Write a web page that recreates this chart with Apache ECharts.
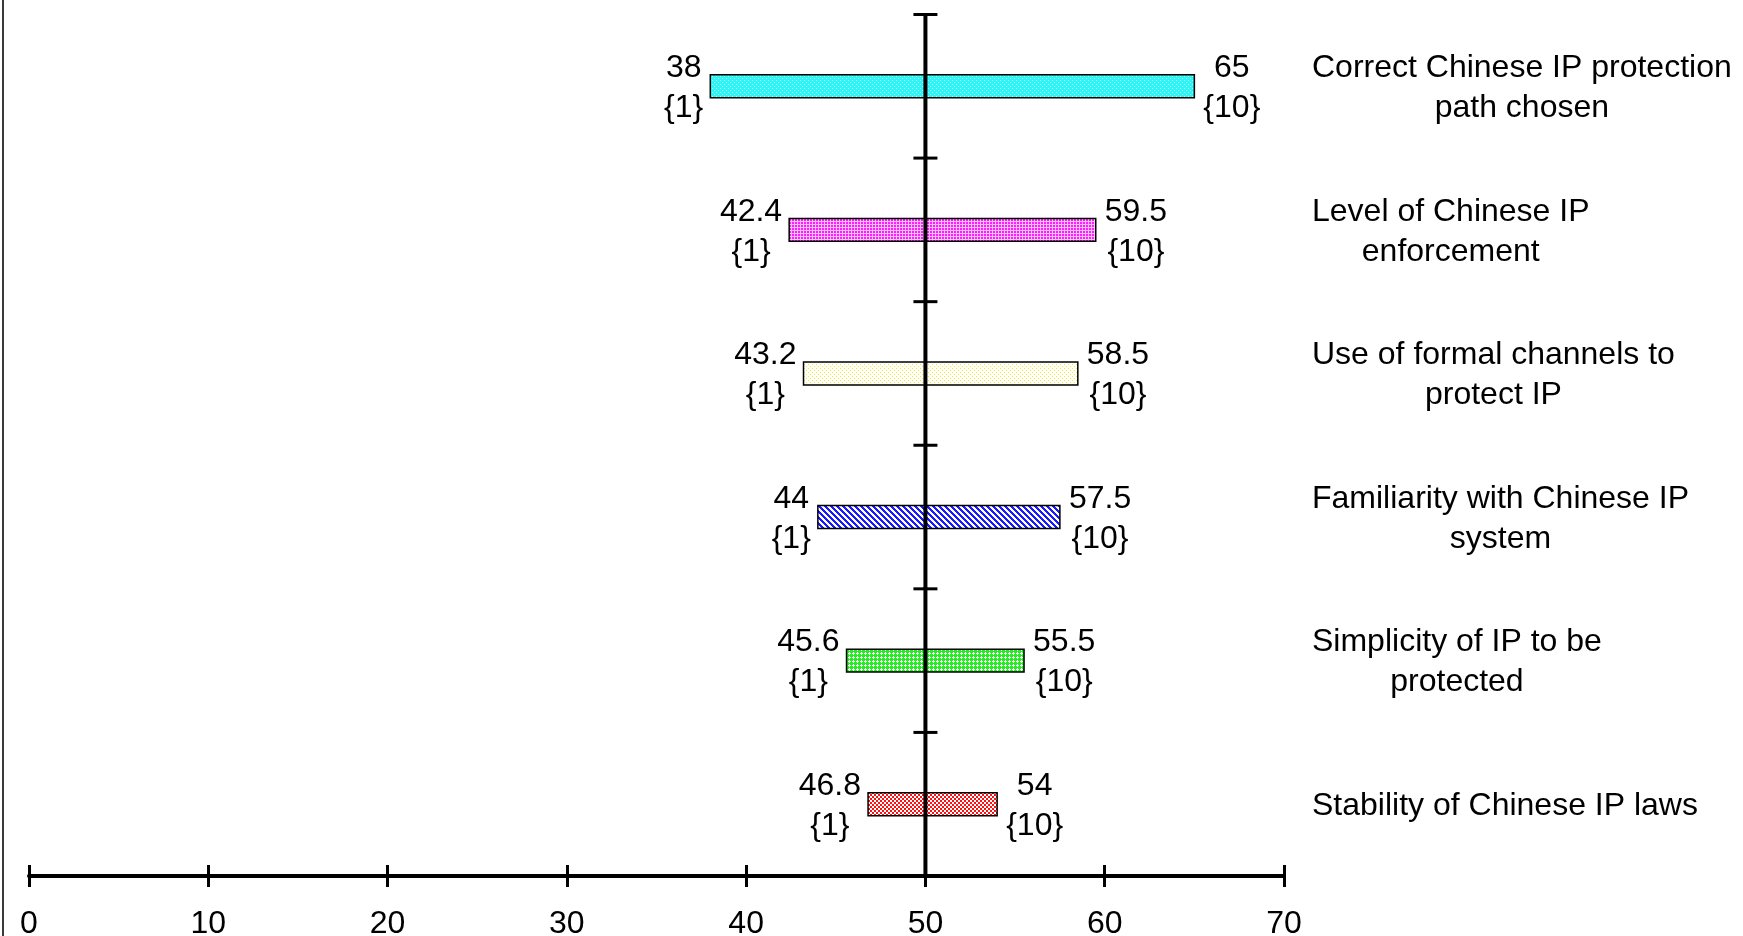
<!DOCTYPE html>
<html><head><meta charset="utf-8">
<script src="https://cdn.jsdelivr.net/npm/echarts@6/dist/echarts.min.js"></script>
<style>
html,body{margin:0;padding:0;background:#fff;overflow:hidden;}
#chart{width:1743px;height:936px;}
#edge{position:absolute;left:2px;top:0;width:2px;height:936px;background:#3a3a3a;}
</style>
</head><body><div id="chart"></div><div id="edge"></div>
<script>
// ---- data ----
const categories = [
  'Correct Chinese IP protection\npath chosen',
  'Level of Chinese IP\nenforcement',
  'Use of formal channels to\nprotect IP',
  'Familiarity with Chinese IP\nsystem',
  'Simplicity of IP to be\nprotected',
  'Stability of Chinese IP laws'
];
const lowValues  = [38, 42.4, 43.2, 44, 45.6, 46.8];
const highValues = [65, 59.5, 58.5, 57.5, 55.5, 54];
const lowRanks   = ['{1}', '{1}', '{1}', '{1}', '{1}', '{1}'];
const highRanks  = ['{10}', '{10}', '{10}', '{10}', '{10}', '{10}'];
const centerValue = 50;
const xMin = 0, xMax = 70, xInterval = 10;

// ---- styles ----
const FONT = "'Liberation Sans', Arial, sans-serif";
const FONT_SIZE = 32;
const measureCtx = document.createElement('canvas').getContext('2d');
measureCtx.font = FONT_SIZE + 'px ' + FONT;
function blockWidth(lines) {
  return Math.max.apply(null, lines.map(s => measureCtx.measureText(String(s)).width));
}
function tile(w, h, bg, fg, pts) {
  const c = document.createElement('canvas');
  c.width = w; c.height = h;
  const g = c.getContext('2d');
  g.fillStyle = bg; g.fillRect(0, 0, w, h);
  g.fillStyle = fg;
  pts.forEach(p => g.fillRect(p[0], p[1], p[2] || 1, p[3] || 1));
  return {image: c, repeat: 'repeat'};
}
function stripes() {
  const c = document.createElement('canvas');
  c.width = 6; c.height = 6;
  const g = c.getContext('2d');
  g.fillStyle = '#ffffff'; g.fillRect(0, 0, 6, 6);
  g.fillStyle = '#1a1aff';
  for (let y = 0; y < 6; y++) for (let x = 0; x < 6; x++) {
    if (((x - y) % 6 + 6) % 6 < 3) g.fillRect(x, y, 1, 1);
  }
  return {image: c, repeat: 'repeat'};
}
const patterns = [
  tile(4, 4, '#2ef5f5', '#b8ffff', [[0,0],[2,2]]),
  tile(3, 3, '#ffc4ff', '#ff1aff', [[0,0,2,2]]),
  tile(4, 4, '#ffffff', '#f2ef20', [[0,0],[2,2]]),
  stripes(),
  tile(4, 4, '#22ee22', '#ffffff', [[1,0,1,3],[0,1,3,1]]),
  tile(4, 4, '#ffffff', '#ff1010', [[0,0,2,2],[2,2,2,2]])
];

const chart = echarts.init(document.getElementById('chart'), null, {renderer: 'canvas'});

const option = {
  animation: false,
  backgroundColor: '#fff',
  grid: {left: 29, right: 459, top: 14.5, bottom: 60, containLabel: false, outerBoundsMode: 'none'},
  xAxis: [{
    type: 'value', min: xMin, max: xMax, interval: xInterval, position: 'bottom',
    axisLine: {show: true, lineStyle: {color: '#000', width: 4}},
    axisTick: {show: true, length: 11, lineStyle: {color: '#000', width: 3}},
    axisLabel: {fontSize: FONT_SIZE, fontFamily: FONT, color: '#000', margin: 32},
    splitLine: {show: false}
  }, {
    type: 'value', min: xMin, max: xMax, interval: xInterval, position: 'bottom', gridIndex: 0,
    axisLine: {show: false},
    axisTick: {show: true, inside: true, length: 11, lineStyle: {color: '#000', width: 3}},
    axisLabel: {show: false},
    splitLine: {show: false}
  }],
  yAxis: {
    type: 'category', data: categories, inverse: true, position: 'right',
    axisLine: {show: false}, axisTick: {show: false}, splitLine: {show: false},
    axisLabel: {
      margin: 28, color: '#000', fontSize: FONT_SIZE, fontFamily: FONT, lineHeight: 40,
      formatter: v => '{c|' + v + '}',
      rich: {c: {align: 'center', fontSize: FONT_SIZE, lineHeight: 40, fontFamily: FONT, color: '#000', padding: [4, 0, 0, 0]}}
    }
  },
  series: [{
    type: 'custom',
    name: 'range',
    xAxisIndex: 0,
    encode: {x: [1, 2], y: 0},
    data: categories.map((c, i) => [c, lowValues[i], highValues[i]]),
    renderItem: function (params, api) {
      const i = params.dataIndex;
      const p0 = api.coord([api.value(1), i]);
      const p1 = api.coord([api.value(2), i]);
      const bandH = api.size([0, 1])[1];
      const h = bandH * 0.16;
      const lw = blockWidth([lowValues[i], lowRanks[i]]);
      const hw = blockWidth([highValues[i], highRanks[i]]);
      const base = {fontSize: FONT_SIZE, fontFamily: FONT, fill: '#000', lineHeight: 40, verticalAlign: 'middle', align: 'center'};
      return {type: 'group', children: [
        {type: 'rect', shape: {x: p0[0], y: p0[1] - h / 2, width: p1[0] - p0[0], height: h},
         style: {fill: patterns[i], stroke: '#000', lineWidth: 1.5}},
        {type: 'text', style: Object.assign({}, base, {x: p0[0] - 7 - lw / 2, y: p0[1] + 2,
          text: lowValues[i] + '\n' + lowRanks[i]})},
        {type: 'text', style: Object.assign({}, base, {x: p1[0] + 9 + hw / 2, y: p1[1] + 2,
          text: highValues[i] + '\n' + highRanks[i]})}
      ]};
    },
    z: 2
  }, {
    type: 'custom',
    name: 'centerAxis',
    xAxisIndex: 0,
    encode: {x: 1, y: 0},
    data: categories.map(c => [c, centerValue]),
    renderItem: function (params, api) {
      const i = params.dataIndex;
      const c = api.coord([api.value(1), i]);
      const bandH = api.size([0, 1])[1];
      const top = c[1] - bandH / 2, bottom = c[1] + bandH / 2;
      return {type: 'group', children: [
        {type: 'line', shape: {x1: c[0], y1: top - 1.5, x2: c[0], y2: bottom}, style: {stroke: '#000', lineWidth: 4}},
        {type: 'line', shape: {x1: c[0] - 12, y1: top, x2: c[0] + 12, y2: top}, style: {stroke: '#000', lineWidth: 3}}
      ]};
    },
    z: 3
  }]
};
chart.setOption(option);
</script>
</body></html>
